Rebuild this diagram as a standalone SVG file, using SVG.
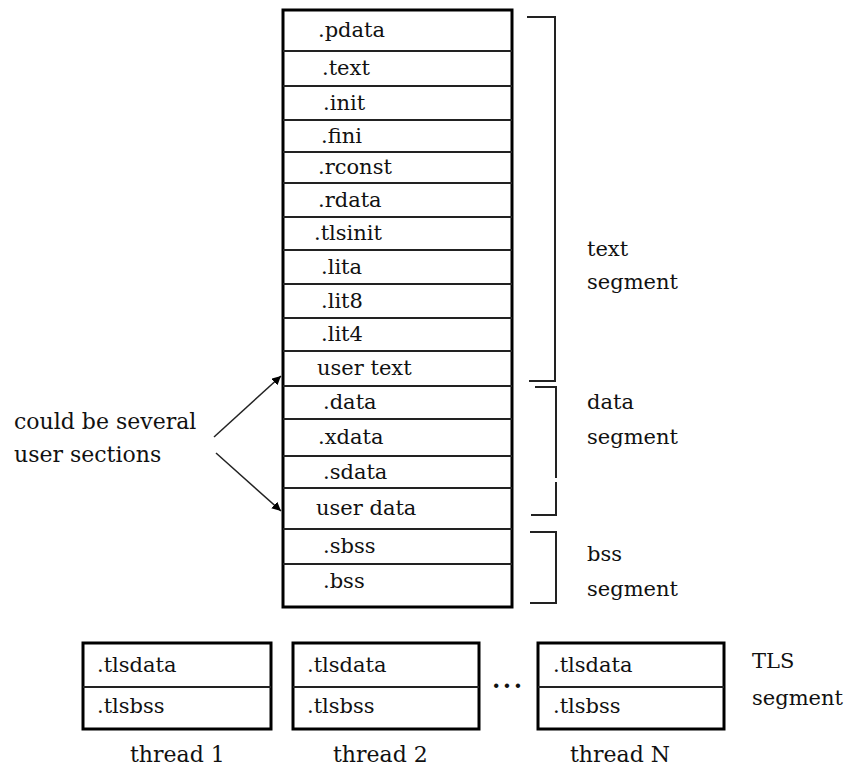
<svg xmlns="http://www.w3.org/2000/svg" width="853" height="770" viewBox="0 0 853 770">
<defs>
<style>
text{font-family:"DejaVu Serif","Liberation Serif",serif;font-size:21px;fill:#111}
.box{fill:#fff;stroke:#000;stroke-width:3}
.row{stroke:#222;stroke-width:2;fill:none}
.br{stroke:#222;stroke-width:2;fill:none}
.conn{stroke:#222;stroke-width:1.5;fill:none}
.lbl{font-size:22px}
</style>
<marker id="ah" viewBox="0 0 10 10" refX="10" refY="5" markerWidth="9" markerHeight="9" markerUnits="userSpaceOnUse" orient="auto">
<path d="M0,0 L10,5 L0,10 z" fill="#000"/>
</marker>
</defs>
<rect width="853" height="770" fill="#fff"/>
<g id="main-sections">
<rect class="box" x="283" y="10" width="229" height="597"/>
<path class="row" d="M283,51H512M283,86H512M283,120H512M283,152H512M283,183H512M283,217H512M283,250H512M283,284H512M283,318H512M283,351H512M283,386H512M283,419H512M283,456H512M283,488H512M283,529H512M283,564H512"/>
<text x="318" y="37">.pdata</text>
<text x="322" y="75">.text</text>
<text x="323" y="110">.init</text>
<text x="321" y="143">.fini</text>
<text x="318" y="174">.rconst</text>
<text x="318" y="207">.rdata</text>
<text x="314" y="240">.tlsinit</text>
<text x="321" y="274">.lita</text>
<text x="321" y="308">.lit8</text>
<text x="321" y="341">.lit4</text>
<text x="317" y="375">user text</text>
<text x="323" y="409">.data</text>
<text x="318" y="444">.xdata</text>
<text x="323" y="479">.sdata</text>
<text x="316" y="515">user data</text>
<text x="323" y="553">.sbss</text>
<text x="323" y="588">.bss</text>
</g>
<g id="text-segment">
<path class="br" d="M527,17H555V381H529"/>
<text x="587" y="256">text</text>
<text x="587" y="289">segment</text>
</g>
<g id="data-segment">
<path class="br" d="M535,387H556V478M556,482V515H531"/>
<text x="587" y="409">data</text>
<text x="587" y="444">segment</text>
</g>
<g id="bss-segment">
<path class="br" d="M530,532H556V603H530"/>
<text x="587" y="561">bss</text>
<text x="587" y="596">segment</text>
</g>
<g id="note">
<text class="lbl" x="14" y="429">could be several</text>
<text class="lbl" x="14" y="462">user sections</text>
</g>
<g id="connectors">
<line class="conn" x1="214" y1="437" x2="281" y2="376" marker-end="url(#ah)"/>
<line class="conn" x1="216" y1="453" x2="281" y2="511" marker-end="url(#ah)"/>
</g>
<g id="thread-1">
<rect class="box" x="83" y="643" width="188" height="86"/>
<line class="row" x1="83" y1="687" x2="271" y2="687"/>
<text x="97" y="672">.tlsdata</text>
<text x="97" y="713">.tlsbss</text>
<text x="130" y="762" style="font-size:22px">thread 1</text>
</g>
<g id="thread-2">
<rect class="box" x="293" y="643" width="186" height="86"/>
<line class="row" x1="293" y1="687" x2="479" y2="687"/>
<text x="307" y="672">.tlsdata</text>
<text x="307" y="713">.tlsbss</text>
<text x="333" y="762" style="font-size:22px">thread 2</text>
</g>
<text x="492" y="688" style="font-weight:bold;font-size:24px;letter-spacing:2.5px">...</text>
<g id="thread-N">
<rect class="box" x="538" y="643" width="186" height="86"/>
<line class="row" x1="538" y1="687" x2="724" y2="687"/>
<text x="553" y="672">.tlsdata</text>
<text x="553" y="713">.tlsbss</text>
<text x="570" y="762" style="font-size:22px">thread N</text>
</g>
<g id="tls-segment">
<text x="752" y="668">TLS</text>
<text x="752" y="705">segment</text>
</g>
</svg>
